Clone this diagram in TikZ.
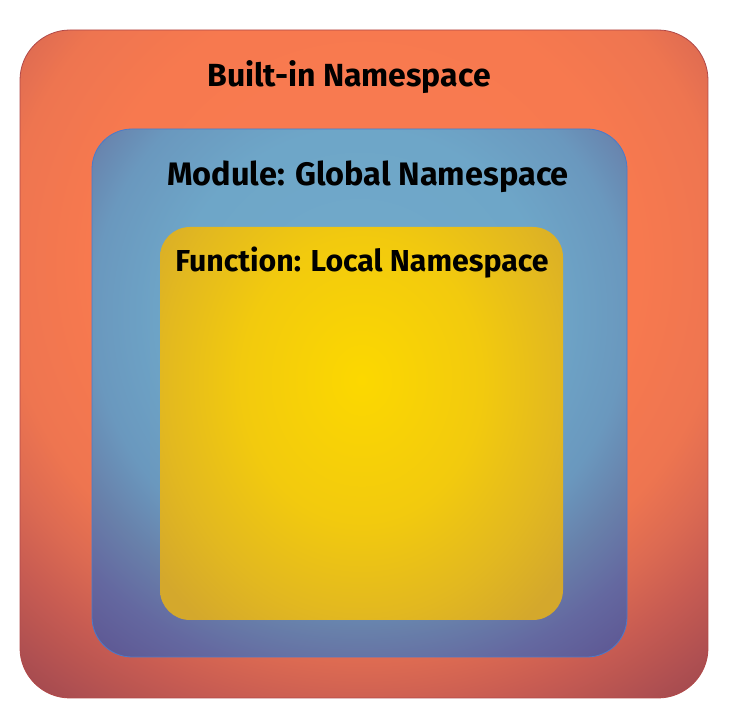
\documentclass[tikz,border=0pt]{standalone}
\usepackage{fontspec}
\setmainfont{Fira Sans}
\definecolor{orA}{HTML}{FA7C51}
\definecolor{orB}{HTML}{F7794F}
\definecolor{orC}{HTML}{EE7550}
\definecolor{orD}{HTML}{DC6A52}
\definecolor{orE}{HTML}{C85C52}
\definecolor{orF}{HTML}{A44A50}
\definecolor{blA}{HTML}{72AACA}
\definecolor{blB}{HTML}{6EA6C8}
\definecolor{blC}{HTML}{6A98BE}
\definecolor{blD}{HTML}{6880AA}
\definecolor{blE}{HTML}{6468A0}
\definecolor{blF}{HTML}{5E5894}
\definecolor{yeA}{HTML}{FCD800}
\definecolor{yeB}{HTML}{F2CA0E}
\definecolor{yeC}{HTML}{E2B820}
\definecolor{yeD}{HTML}{D4A82C}
\definecolor{outline1}{HTML}{B04848}
\definecolor{outline2}{HTML}{4A7ACB}
\pgfdeclareradialshading{outershade}{\pgfpoint{0bp}{0bp}}{%
  color(0bp)=(orA); color(80bp)=(orB); color(105bp)=(orC); color(120bp)=(orD); color(135bp)=(orE); color(160bp)=(orF); color(170bp)=(orF)}
\pgfdeclareradialshading{middleshade}{\pgfpoint{0bp}{0bp}}{%
  color(0bp)=(blA); color(70bp)=(blB); color(100bp)=(blC); color(120bp)=(blD); color(140bp)=(blE); color(160bp)=(blF); color(170bp)=(blF)}
\pgfdeclareradialshading{innershade}{\pgfpoint{0bp}{0bp}}{%
  color(0bp)=(yeA); color(60bp)=(yeB); color(100bp)=(yeC); color(130bp)=(yeD); color(170bp)=(yeD)}
\tikzset{
  nsbox/.style={inner sep=0pt, outer sep=0pt},
  shadebox/.style={inner sep=0pt, outer sep=0pt, transform shape},
  nslabel/.style={inner sep=0pt, anchor=base, text=black}
}
\begin{document}
\begin{tikzpicture}[x=1pt,y=1pt]
\useasboundingbox (0,0) rectangle (728,728);
% geometry of the three boxes
\path node[nsbox, minimum width=688pt, minimum height=668pt] (builtin) at (364,364) {};
\path node[nsbox, minimum width=535pt, minimum height=528pt] (module) at (359.5,335) {};
\path node[nsbox, minimum width=403pt, minimum height=393pt] (function) at (361.5,304.5) {};
% outer box
\begin{scope}
  \clip[rounded corners=50pt] (builtin.south west) rectangle (builtin.north east);
  \begin{scope}[shift={(364,464)}, xscale=3.43, yscale=3.33]
    \node[shadebox] (builtinshade) at (0,0) {\pgfuseshading{outershade}};
  \end{scope}
\end{scope}
\draw[outline1, line width=0.8pt, rounded corners=50pt] (builtin.south west) rectangle (builtin.north east);
% middle box
\begin{scope}
  \clip[rounded corners=40pt] (module.south west) rectangle (module.north east);
  \begin{scope}[shift={(359.5,414)}, xscale=2.665, yscale=2.63]
    \node[shadebox] (moduleshade) at (0,0) {\pgfuseshading{middleshade}};
  \end{scope}
\end{scope}
\draw[outline2, line width=0.8pt, rounded corners=40pt] (module.south west) rectangle (module.north east);
% inner box
\begin{scope}
  \clip[rounded corners=30pt] (function.south west) rectangle (function.north east);
  \begin{scope}[shift={(361.5,348)}, xscale=2.0, yscale=2.35]
    \node[shadebox] (functionshade) at (0,0) {\pgfuseshading{innershade}};
  \end{scope}
\end{scope}
% labels
\node[nslabel, font=\fontsize{32}{38}\selectfont\bfseries] (builtinlabel) at (349,641) {Built-in Namespace};
\node[nslabel, font=\fontsize{32.5}{39}\selectfont\bfseries] (modulelabel) at (368,542) {Module: Global Namespace};
\node[nslabel, font=\fontsize{30.3}{36}\selectfont\bfseries] (functionlabel) at (362,456) {Function: Local Namespace};
\end{tikzpicture}
\end{document}
